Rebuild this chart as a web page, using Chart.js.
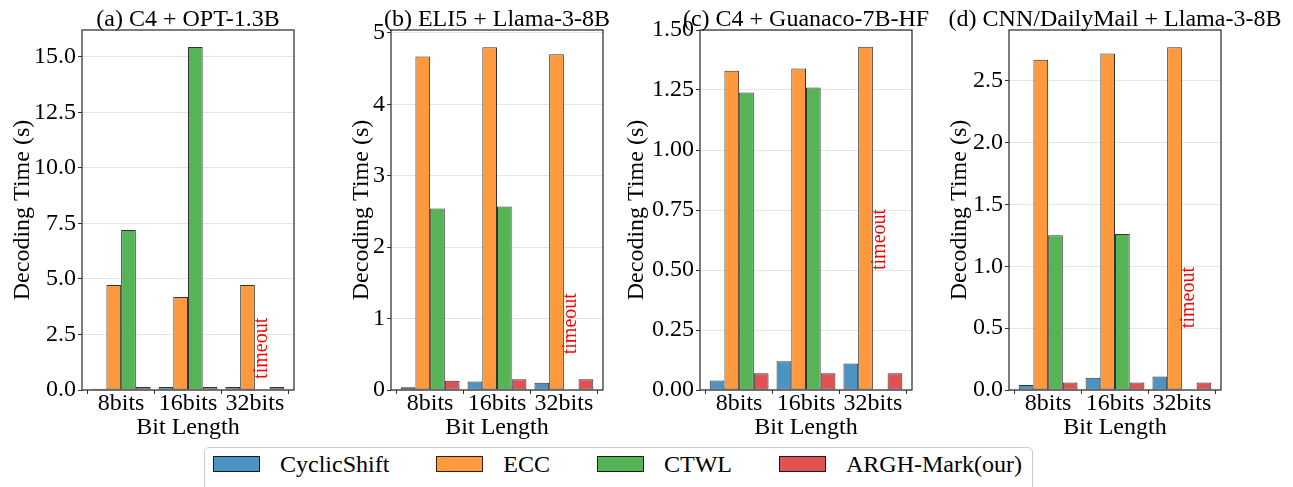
<!DOCTYPE html>
<html>
<head>
<meta charset="utf-8">
<script src="https://cdn.jsdelivr.net/npm/chart.js@4.4.0/dist/chart.umd.min.js"></script>
<style>
html,body{margin:0;padding:0;background:#fff;}
body{width:1293px;height:487px;overflow:hidden;position:relative;font-family:"Liberation Serif","Times New Roman",serif;}
canvas{position:absolute;top:0;}
#legend{position:absolute;left:204px;top:447px;width:829px;height:54px;border:1px solid #cccccc;border-radius:5px;box-sizing:border-box;display:flex;align-items:flex-start;padding-left:8px;padding-top:4px;background:#fff;}
.item{display:flex;align-items:center;margin-right:47px;font-size:24px;line-height:24px;height:24px;white-space:nowrap;color:#000;}
.patch{width:47px;height:16px;box-sizing:border-box;border:1px solid rgba(0,0,0,0.8);margin-right:20px;}
</style>
</head>
<body>
<div id="legend"></div>
<script>
// ---------------- data ----------------
const categories = ['8bits', '16bits', '32bits'];
const seriesNames = ['CyclicShift', 'ECC', 'CTWL', 'ARGH-Mark(our)'];
const panelTitles = ['(a) C4 + OPT-1.3B', '(b) ELI5 + Llama-3-8B', '(c) C4 + Guanaco-7B-HF', '(d) CNN/DailyMail + Llama-3-8B'];
const xAxisTitle = 'Bit Length';
const yAxisTitle = 'Decoding Time (s)';
const timeoutLabel = 'timeout';
const timeoutAt = 0.5;

// (a) C4 + OPT-1.3B
const cyclicA = [0.06, 0.13, 0.13];
const eccA    = [4.73, 4.19, 4.73];
const ctwlA   = [7.20, 15.44, null];
const arghA   = [0.14, 0.14, 0.14];
// (b) ELI5 + Llama-3-8B
const cyclicB = [0.04, 0.12, 0.10];
const eccB    = [4.67, 4.80, 4.70];
const ctwlB   = [2.54, 2.57, null];
const arghB   = [0.13, 0.15, 0.15];
// (c) C4 + Guanaco-7B-HF
const cyclicC = [0.04, 0.12, 0.11];
const eccC    = [1.33, 1.34, 1.43];
const ctwlC   = [1.24, 1.26, null];
const arghC   = [0.07, 0.07, 0.07];
// (d) CNN/DailyMail + Llama-3-8B
const cyclicD = [0.04, 0.10, 0.11];
const eccD    = [2.67, 2.72, 2.77];
const ctwlD   = [1.25, 1.26, null];
const arghD   = [0.06, 0.06, 0.06];

// y-axis ticks
const yTicksA = [0, 2.5, 5, 7.5, 10, 12.5, 15];
const yTickLabelsA = ['0.0', '2.5', '5.0', '7.5', '10.0', '12.5', '15.0'];
const yTicksB = [0, 1, 2, 3, 4, 5];
const yTickLabelsB = ['0', '1', '2', '3', '4', '5'];
const yTicksC = [0, 0.25, 0.5, 0.75, 1.0, 1.25, 1.5];
const yTickLabelsC = ['0.00', '0.25', '0.50', '0.75', '1.00', '1.25', '1.50'];
const yTicksD = [0, 0.5, 1.0, 1.5, 2.0, 2.5];
const yTickLabelsD = ['0.0', '0.5', '1.0', '1.5', '2.0', '2.5'];
const yMaxes = [16.2, 5.04, 1.5, 2.91];

// ---------------- styling / layout ----------------
const FONT = '"Liberation Serif", "Times New Roman", serif';
const fills = ['rgb(76,146,195)', 'rgb(255,153,62)', 'rgb(86,179,86)', 'rgb(222,82,83)'];
const edge = 'rgba(0,0,0,0.8)';
const canvasLefts = [11, 350, 625, 948];
const yAxisWidths = [71, 41, 75, 61];
const rightPads = [6, 10, 22, 66];
const plotWidth = 212;
const canvasH = 440;
const titleTop = 30;

const panels = [
  {series: [cyclicA, eccA, ctwlA, arghA], ticks: yTicksA, labels: yTickLabelsA},
  {series: [cyclicB, eccB, ctwlB, arghB], ticks: yTicksB, labels: yTickLabelsB},
  {series: [cyclicC, eccC, ctwlC, arghC], ticks: yTicksC, labels: yTickLabelsC},
  {series: [cyclicD, eccD, ctwlD, arghD], ticks: yTicksD, labels: yTickLabelsD},
];

// legend (HTML)
const legend = document.getElementById('legend');
seriesNames.forEach((n, i) => {
  const it = document.createElement('div'); it.className = 'item';
  if (i === seriesNames.length - 1) it.style.marginRight = '0';
  const p = document.createElement('div'); p.className = 'patch'; p.style.background = fills[i];
  const t = document.createElement('span'); t.textContent = n;
  it.appendChild(p); it.appendChild(t); legend.appendChild(it);
});

const framePlugin = {
  id: 'frame',
  afterDraw(chart) {
    const a = chart.chartArea, ctx = chart.ctx;
    ctx.save();
    ctx.strokeStyle = '#262626';
    ctx.lineWidth = 1.2;
    ctx.strokeRect(a.left, a.top, a.right - a.left, a.bottom - a.top);
    ctx.restore();
  }
};

// panel title centred over the plot area (not squeezed to its width)
const panelTitlePlugin = {
  id: 'panelTitle',
  afterDraw(chart) {
    const a = chart.chartArea, ctx = chart.ctx;
    const txt = chart.options.plugins.panelTitle.text;
    ctx.save();
    ctx.fillStyle = '#000';
    ctx.font = '24px ' + FONT;
    ctx.textAlign = 'center';
    ctx.textBaseline = 'alphabetic';
    ctx.fillText(txt, (a.left + a.right) / 2, a.top - 4.5);
    ctx.restore();
  }
};

const timeoutPlugin = {
  id: 'timeoutText',
  afterDatasetsDraw(chart) {
    const ctx = chart.ctx;
    const ys = chart.scales.y, xs = chart.scales.x;
    chart.data.datasets.forEach((ds, di) => {
      const meta = chart.getDatasetMeta(di);
      ds.data.forEach((pt, i) => {
        if (pt.y !== null) return;
        let x = meta.data[i] && meta.data[i].x;
        if (!isFinite(x)) {
          const j = i > 0 ? i - 1 : i + 1;
          x = meta.data[j].x + (xs.getPixelForValue(pt.x) - xs.getPixelForValue(ds.data[j].x));
        }
        const y = ys.getPixelForValue(timeoutAt);
        ctx.save();
        ctx.translate(x, y);
        ctx.rotate(-Math.PI / 2);
        ctx.fillStyle = '#ff0000';
        ctx.font = '20px ' + FONT;
        ctx.textAlign = 'left';
        ctx.textBaseline = 'middle';
        ctx.fillText(timeoutLabel, 0, 0);
        ctx.restore();
      });
    });
  }
};

const xVals = categories.map((_, i) => i);

panels.forEach((panel, p) => {
  const cv = document.createElement('canvas');
  const w = yAxisWidths[p] + plotWidth + rightPads[p];
  cv.width = w; cv.height = canvasH;
  cv.style.left = canvasLefts[p] + 'px';
  cv.style.width = w + 'px'; cv.style.height = canvasH + 'px';
  document.body.appendChild(cv);

  new Chart(cv.getContext('2d'), {
    type: 'bar',
    data: {
      datasets: seriesNames.map((name, s) => ({
        label: name,
        data: xVals.map((x, i) => ({x: x, y: panel.series[s][i]})),
        backgroundColor: fills[s],
        borderColor: edge,
        borderWidth: 1,
        borderSkipped: false,
        categoryPercentage: 0.88,
        barPercentage: 1.0,
      }))
    },
    options: {
      responsive: false,
      animation: false,
      devicePixelRatio: 1,
      layout: {padding: {left: 0, right: rightPads[p], top: titleTop, bottom: 0}},
      plugins: {
        legend: {display: false},
        tooltip: {enabled: false},
        title: {display: false},
        panelTitle: {text: panelTitles[p]}
      },
      scales: {
        x: {
          type: 'linear', min: -0.585, max: 2.585, offset: false,
          afterBuildTicks: s => { s.ticks = xVals.map(v => ({value: v})); },
          afterFit: s => { s.height = 50; },
          ticks: {
            callback: v => categories[v], color: '#000', autoSkip: false, maxRotation: 0,
            font: {family: FONT, size: 24, lineHeight: 0.8}, padding: 0
          },
          grid: {drawOnChartArea: false, drawTicks: true, tickLength: 4, tickColor: '#333', tickWidth: 1},
          border: {display: false},
          title: {display: true, text: xAxisTitle, color: '#000',
                  font: {family: FONT, size: 24, lineHeight: 1}, padding: {top: 0, bottom: 0}}
        },
        y: {
          type: 'linear', min: 0, max: yMaxes[p],
          afterBuildTicks: s => { s.ticks = panel.ticks.map(v => ({value: v})); },
          afterFit: s => { s.width = yAxisWidths[p]; },
          ticks: {
            callback: (v, i) => panel.labels[i], color: '#000', autoSkip: false,
            font: {family: FONT, size: 24, lineHeight: 1}, padding: 2
          },
          grid: {color: 'rgba(0,0,0,0.1)', lineWidth: 1, drawTicks: true, tickLength: 4, tickColor: '#333', tickWidth: 1},
          border: {display: false},
          title: {display: true, text: yAxisTitle, color: '#000',
                  font: {family: FONT, size: 24, lineHeight: 1}, padding: {top: 0, bottom: 0}}
        }
      }
    },
    plugins: [framePlugin, panelTitlePlugin, timeoutPlugin]
  });
});
</script>
</body>
</html>
